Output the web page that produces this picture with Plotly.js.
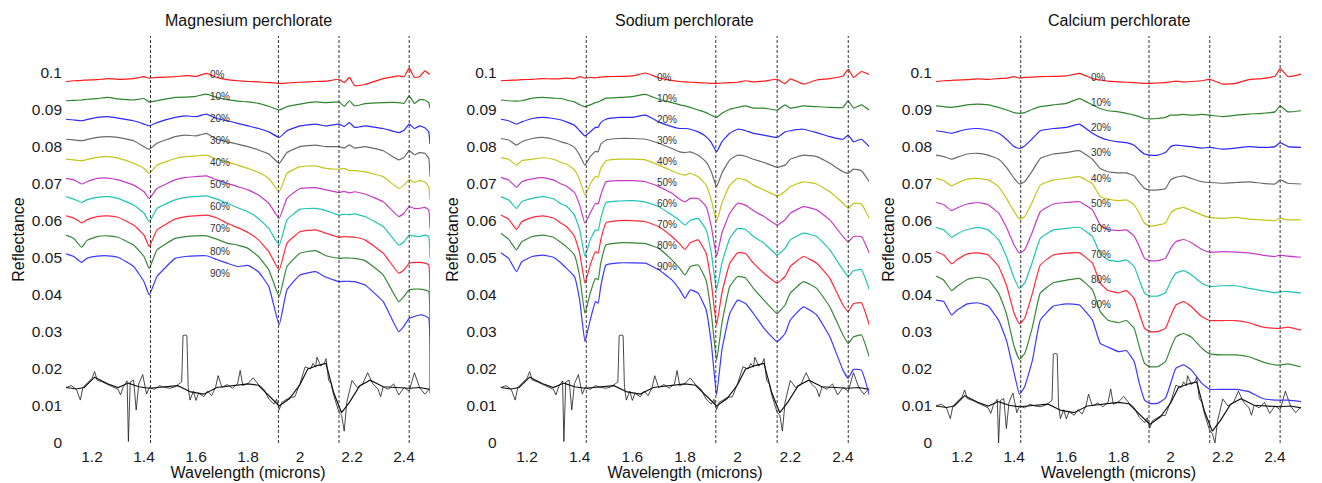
<!DOCTYPE html>
<html>
<head>
<meta charset="utf-8">
<script src="https://cdn.plot.ly/plotly-3.0.1.min.js"></script>
<style>html,body{margin:0;padding:0;background:#fff;}#chart{width:1322px;height:483px;}</style>
</head>
<body>
<div id="chart"></div>
<script>
// ---------------- DATA ----------------
const panelTitles = ["Magnesium perchlorate", "Sodium perchlorate", "Calcium perchlorate"];
const mixLabels = ["0%", "10%", "20%", "30%", "40%", "50%", "60%", "70%", "80%", "90%"];
const xTickVals = [1.2, 1.4, 1.6, 1.8, 2.0, 2.2, 2.4];
const xTickText = ["1.2", "1.4", "1.6", "1.8", "2", "2.2", "2.4"];
const yTickVals = [0, 0.01, 0.02, 0.03, 0.04, 0.05, 0.06, 0.07, 0.08, 0.09, 0.1];
const yTickText = ["0", "0.01", "0.02", "0.03", "0.04", "0.05", "0.06", "0.07", "0.08", "0.09", "0.1"];
const bandCenters = [1.425, 1.917, 2.15, 2.42];

// Magnesium perchlorate
const mgWl = [1.10,1.13,1.16,1.18,1.22,1.26,1.30,1.36,1.40,1.42,1.45,1.52,1.56,1.60,1.64,1.68,1.72,1.76,1.80,1.84,1.88,1.92,1.95,2.00,2.06,2.10,2.15,2.17,2.19,2.21,2.25,2.32,2.38,2.40,2.42,2.44,2.46,2.48,2.495,2.50];
const mg0  = [0.0977,0.0979,0.0980,0.0981,0.0982,0.0985,0.0983,0.0985,0.0990,0.0986,0.0988,0.0990,0.0993,0.0991,0.0999,0.0988,0.0982,0.0979,0.0977,0.0976,0.0974,0.0972,0.0973,0.0975,0.0977,0.0978,0.0983,0.0974,0.0988,0.0966,0.0969,0.0985,0.0992,0.0990,0.1013,0.0988,0.0990,0.1006,0.0998,0.0997];
const mg10 = [0.0925,0.0926,0.0927,0.0929,0.0931,0.0934,0.0930,0.0927,0.0931,0.0922,0.0925,0.0934,0.0935,0.0937,0.0943,0.0934,0.0928,0.0924,0.0922,0.0918,0.0910,0.0900,0.0909,0.0916,0.0922,0.0920,0.0922,0.0910,0.0925,0.0911,0.0917,0.0920,0.0920,0.0918,0.0938,0.0918,0.0928,0.0927,0.0920,0.0905];
const mg20 = [0.0875,0.0873,0.0871,0.0874,0.0880,0.0882,0.0878,0.0871,0.0862,0.0857,0.0866,0.0880,0.0884,0.0882,0.0889,0.0877,0.0871,0.0864,0.0857,0.0850,0.0841,0.0826,0.0844,0.0857,0.0862,0.0857,0.0862,0.0855,0.0866,0.0853,0.0857,0.0850,0.0839,0.0845,0.0862,0.0850,0.0857,0.0852,0.0841,0.0808];
const mg30 = [0.0821,0.0819,0.0817,0.0820,0.0826,0.0828,0.0826,0.0817,0.0801,0.0794,0.0810,0.0828,0.0832,0.0830,0.0837,0.0821,0.0814,0.0808,0.0801,0.0792,0.0781,0.0756,0.0785,0.0801,0.0805,0.0801,0.0801,0.0797,0.0806,0.0797,0.0801,0.0790,0.0765,0.0772,0.0790,0.0779,0.0785,0.0783,0.0770,0.0720];
const mg40 = [0.0767,0.0765,0.0763,0.0766,0.0772,0.0774,0.0770,0.0756,0.0742,0.0729,0.0751,0.0769,0.0774,0.0776,0.0778,0.0767,0.0760,0.0751,0.0742,0.0731,0.0715,0.0679,0.0729,0.0747,0.0749,0.0742,0.0740,0.0742,0.0736,0.0736,0.0733,0.0720,0.0688,0.0697,0.0711,0.0704,0.0709,0.0706,0.0693,0.0657];
const mg50 = [0.0715,0.0711,0.0700,0.0706,0.0715,0.0716,0.0711,0.0697,0.0679,0.0661,0.0688,0.0711,0.0718,0.0720,0.0722,0.0711,0.0702,0.0693,0.0684,0.0670,0.0648,0.0607,0.0661,0.0688,0.0690,0.0684,0.0677,0.0680,0.0676,0.0679,0.0673,0.0652,0.0612,0.0621,0.0639,0.0634,0.0634,0.0637,0.0630,0.0580];
const mg60 = [0.0666,0.0659,0.0650,0.0657,0.0664,0.0666,0.0661,0.0643,0.0621,0.0598,0.0634,0.0657,0.0664,0.0666,0.0668,0.0659,0.0648,0.0636,0.0625,0.0607,0.0580,0.0535,0.0603,0.0632,0.0634,0.0628,0.0616,0.0618,0.0617,0.0619,0.0612,0.0585,0.0535,0.0544,0.0562,0.0559,0.0558,0.0562,0.0558,0.0500];
const mg70 = [0.0614,0.0608,0.0595,0.0603,0.0612,0.0614,0.0610,0.0589,0.0562,0.0531,0.0576,0.0605,0.0612,0.0614,0.0616,0.0608,0.0594,0.0582,0.0569,0.0549,0.0517,0.0468,0.0540,0.0571,0.0576,0.0567,0.0556,0.0558,0.0557,0.0556,0.0549,0.0513,0.0459,0.0468,0.0486,0.0488,0.0488,0.0486,0.0482,0.0400];
const mg80 = [0.0562,0.0553,0.0529,0.0547,0.0558,0.0560,0.0556,0.0535,0.0504,0.0472,0.0522,0.0553,0.0558,0.0560,0.0560,0.0551,0.0540,0.0535,0.0526,0.0504,0.0468,0.0396,0.0477,0.0513,0.0520,0.0506,0.0499,0.0500,0.0500,0.0499,0.0493,0.0454,0.0382,0.0396,0.0414,0.0416,0.0416,0.0414,0.0410,0.0300];
const mg90 = [0.0511,0.0504,0.0488,0.0499,0.0505,0.0506,0.0502,0.0477,0.0436,0.0400,0.0450,0.0499,0.0504,0.0506,0.0506,0.0496,0.0486,0.0477,0.0480,0.0463,0.0423,0.0319,0.0414,0.0454,0.0463,0.0448,0.0436,0.0437,0.0437,0.0436,0.0427,0.0382,0.0301,0.0316,0.0337,0.0342,0.0346,0.0344,0.0337,0.0134];

// Sodium perchlorate
const naWl = [1.10,1.13,1.16,1.18,1.22,1.26,1.30,1.33,1.35,1.38,1.40,1.42,1.44,1.46,1.47,1.48,1.50,1.55,1.60,1.65,1.70,1.75,1.78,1.80,1.82,1.85,1.88,1.90,1.92,1.94,1.97,2.00,2.03,2.06,2.10,2.15,2.18,2.20,2.25,2.30,2.35,2.40,2.42,2.44,2.47,2.50];
const na0  = [0.0979,0.0980,0.0981,0.0982,0.0983,0.0985,0.0984,0.0985,0.0986,0.0985,0.0990,0.0986,0.0988,0.0987,0.0988,0.0989,0.0990,0.0991,0.0992,0.1000,0.0987,0.0980,0.0977,0.0976,0.0975,0.0974,0.0973,0.0972,0.0972,0.0973,0.0974,0.0975,0.0979,0.0976,0.0978,0.0983,0.0971,0.0984,0.0970,0.0981,0.0985,0.0992,0.1010,0.0988,0.1004,0.0996];
const na10 = [0.0927,0.0925,0.0924,0.0925,0.0932,0.0934,0.0932,0.0931,0.0927,0.0922,0.0914,0.0909,0.0914,0.0920,0.0922,0.0925,0.0932,0.0934,0.0936,0.0942,0.0929,0.0920,0.0914,0.0911,0.0907,0.0900,0.0893,0.0886,0.0880,0.0891,0.0902,0.0907,0.0911,0.0905,0.0905,0.0900,0.0914,0.0905,0.0911,0.0909,0.0907,0.0907,0.0925,0.0905,0.0914,0.0900];
const na20 = [0.0875,0.0871,0.0862,0.0868,0.0877,0.0880,0.0877,0.0873,0.0868,0.0859,0.0844,0.0830,0.0841,0.0853,0.0853,0.0866,0.0875,0.0880,0.0880,0.0886,0.0868,0.0855,0.0850,0.0850,0.0848,0.0841,0.0828,0.0812,0.0787,0.0814,0.0837,0.0848,0.0844,0.0837,0.0832,0.0826,0.0841,0.0844,0.0848,0.0839,0.0828,0.0821,0.0832,0.0814,0.0821,0.0801];
const na30 = [0.0823,0.0819,0.0805,0.0814,0.0823,0.0826,0.0821,0.0814,0.0810,0.0799,0.0778,0.0751,0.0774,0.0788,0.0787,0.0808,0.0819,0.0823,0.0823,0.0821,0.0810,0.0796,0.0787,0.0785,0.0787,0.0778,0.0760,0.0733,0.0693,0.0729,0.0765,0.0778,0.0775,0.0767,0.0758,0.0745,0.0751,0.0767,0.0778,0.0774,0.0756,0.0733,0.0729,0.0740,0.0736,0.0706];
const na40 = [0.0772,0.0767,0.0751,0.0763,0.0767,0.0771,0.0767,0.0758,0.0754,0.0738,0.0711,0.0670,0.0700,0.0720,0.0718,0.0742,0.0763,0.0767,0.0767,0.0765,0.0751,0.0736,0.0727,0.0724,0.0729,0.0720,0.0697,0.0657,0.0598,0.0648,0.0697,0.0715,0.0711,0.0697,0.0684,0.0668,0.0680,0.0693,0.0706,0.0700,0.0679,0.0648,0.0634,0.0648,0.0646,0.0607];
const na50 = [0.0718,0.0711,0.0691,0.0706,0.0714,0.0717,0.0711,0.0700,0.0694,0.0677,0.0643,0.0594,0.0621,0.0648,0.0646,0.0670,0.0706,0.0709,0.0709,0.0706,0.0693,0.0675,0.0659,0.0652,0.0661,0.0661,0.0639,0.0585,0.0504,0.0567,0.0621,0.0648,0.0643,0.0628,0.0612,0.0589,0.0603,0.0621,0.0639,0.0630,0.0603,0.0558,0.0544,0.0558,0.0558,0.0513];
const na60 = [0.0666,0.0657,0.0634,0.0652,0.0661,0.0666,0.0660,0.0646,0.0640,0.0616,0.0576,0.0504,0.0549,0.0576,0.0574,0.0607,0.0650,0.0654,0.0655,0.0651,0.0639,0.0616,0.0601,0.0589,0.0602,0.0607,0.0576,0.0513,0.0414,0.0486,0.0553,0.0580,0.0577,0.0558,0.0540,0.0508,0.0526,0.0549,0.0567,0.0558,0.0522,0.0468,0.0450,0.0466,0.0468,0.0414];
const na70 = [0.0616,0.0605,0.0577,0.0598,0.0610,0.0614,0.0608,0.0594,0.0585,0.0559,0.0513,0.0432,0.0481,0.0517,0.0513,0.0549,0.0595,0.0601,0.0601,0.0598,0.0585,0.0558,0.0538,0.0523,0.0541,0.0549,0.0513,0.0432,0.0319,0.0405,0.0486,0.0514,0.0512,0.0486,0.0459,0.0432,0.0450,0.0477,0.0504,0.0486,0.0445,0.0373,0.0355,0.0377,0.0379,0.0319];
const na80 = [0.0567,0.0551,0.0522,0.0544,0.0558,0.0562,0.0556,0.0541,0.0530,0.0508,0.0450,0.0350,0.0405,0.0445,0.0441,0.0486,0.0535,0.0541,0.0541,0.0539,0.0526,0.0495,0.0472,0.0454,0.0477,0.0481,0.0440,0.0350,0.0224,0.0323,0.0423,0.0450,0.0446,0.0418,0.0386,0.0350,0.0373,0.0405,0.0436,0.0418,0.0368,0.0292,0.0269,0.0287,0.0292,0.0233];
const na90 = [0.0514,0.0499,0.0463,0.0490,0.0504,0.0508,0.0502,0.0486,0.0472,0.0450,0.0386,0.0274,0.0332,0.0382,0.0378,0.0423,0.0481,0.0487,0.0487,0.0486,0.0468,0.0441,0.0414,0.0391,0.0414,0.0405,0.0360,0.0269,0.0130,0.0251,0.0350,0.0386,0.0377,0.0350,0.0310,0.0274,0.0296,0.0332,0.0368,0.0346,0.0287,0.0197,0.0175,0.0199,0.0197,0.0130];

// Calcium perchlorate
const caWl = [1.10,1.13,1.16,1.18,1.22,1.26,1.30,1.34,1.37,1.40,1.42,1.44,1.47,1.50,1.55,1.60,1.65,1.70,1.73,1.76,1.80,1.83,1.86,1.88,1.90,1.92,1.95,1.98,2.00,2.02,2.05,2.08,2.12,2.15,2.20,2.25,2.30,2.35,2.40,2.42,2.45,2.50];
const ca0  = [0.0977,0.0979,0.0980,0.0981,0.0982,0.0984,0.0983,0.0985,0.0986,0.0990,0.0986,0.0988,0.0989,0.0990,0.0991,0.0992,0.0999,0.0985,0.0981,0.0978,0.0976,0.0975,0.0974,0.0973,0.0972,0.0972,0.0973,0.0974,0.0976,0.0978,0.0976,0.0977,0.0979,0.0983,0.0970,0.0972,0.0982,0.0985,0.0991,0.1012,0.0990,0.0997];
const ca10 = [0.0911,0.0909,0.0907,0.0909,0.0914,0.0916,0.0914,0.0907,0.0900,0.0893,0.0891,0.0893,0.0902,0.0909,0.0914,0.0918,0.0931,0.0914,0.0904,0.0898,0.0895,0.0891,0.0886,0.0882,0.0877,0.0876,0.0877,0.0880,0.0886,0.0886,0.0888,0.0886,0.0888,0.0886,0.0882,0.0886,0.0889,0.0891,0.0895,0.0911,0.0895,0.0898];
const ca20 = [0.0844,0.0841,0.0837,0.0841,0.0848,0.0850,0.0846,0.0837,0.0821,0.0801,0.0796,0.0803,0.0823,0.0844,0.0850,0.0853,0.0862,0.0837,0.0826,0.0819,0.0814,0.0812,0.0805,0.0792,0.0781,0.0778,0.0778,0.0785,0.0801,0.0805,0.0803,0.0801,0.0797,0.0799,0.0794,0.0797,0.0801,0.0799,0.0801,0.0812,0.0801,0.0799];
const ca30 = [0.0778,0.0774,0.0767,0.0772,0.0781,0.0783,0.0778,0.0767,0.0745,0.0715,0.0700,0.0706,0.0736,0.0769,0.0781,0.0785,0.0790,0.0767,0.0742,0.0733,0.0730,0.0730,0.0722,0.0704,0.0688,0.0684,0.0684,0.0688,0.0711,0.0718,0.0722,0.0715,0.0706,0.0704,0.0702,0.0704,0.0706,0.0702,0.0700,0.0711,0.0702,0.0700];
const ca40 = [0.0715,0.0709,0.0695,0.0702,0.0713,0.0715,0.0711,0.0693,0.0661,0.0625,0.0605,0.0612,0.0652,0.0697,0.0711,0.0715,0.0720,0.0700,0.0666,0.0659,0.0655,0.0657,0.0643,0.0621,0.0594,0.0586,0.0589,0.0594,0.0621,0.0632,0.0637,0.0628,0.0616,0.0610,0.0607,0.0610,0.0605,0.0603,0.0601,0.0607,0.0603,0.0603];
const ca50 = [0.0650,0.0644,0.0628,0.0635,0.0646,0.0650,0.0644,0.0621,0.0583,0.0535,0.0513,0.0522,0.0571,0.0625,0.0646,0.0650,0.0652,0.0630,0.0589,0.0577,0.0574,0.0576,0.0559,0.0531,0.0499,0.0493,0.0493,0.0499,0.0526,0.0544,0.0550,0.0541,0.0523,0.0516,0.0517,0.0516,0.0514,0.0508,0.0504,0.0508,0.0505,0.0502];
const ca60 = [0.0583,0.0576,0.0556,0.0565,0.0577,0.0583,0.0576,0.0549,0.0504,0.0445,0.0418,0.0432,0.0490,0.0553,0.0576,0.0580,0.0583,0.0558,0.0511,0.0495,0.0490,0.0495,0.0477,0.0440,0.0405,0.0397,0.0397,0.0406,0.0436,0.0459,0.0466,0.0454,0.0432,0.0423,0.0425,0.0425,0.0418,0.0412,0.0406,0.0409,0.0409,0.0405];
const ca70 = [0.0517,0.0508,0.0484,0.0495,0.0511,0.0514,0.0508,0.0477,0.0427,0.0350,0.0322,0.0337,0.0405,0.0481,0.0508,0.0513,0.0514,0.0486,0.0432,0.0412,0.0406,0.0412,0.0391,0.0350,0.0310,0.0301,0.0301,0.0310,0.0343,0.0373,0.0382,0.0368,0.0341,0.0331,0.0331,0.0331,0.0325,0.0314,0.0310,0.0310,0.0313,0.0305];
const ca80 = [0.0451,0.0440,0.0412,0.0423,0.0442,0.0448,0.0441,0.0405,0.0350,0.0260,0.0226,0.0242,0.0314,0.0405,0.0433,0.0440,0.0445,0.0414,0.0355,0.0332,0.0325,0.0331,0.0310,0.0260,0.0215,0.0206,0.0206,0.0220,0.0256,0.0287,0.0296,0.0286,0.0256,0.0241,0.0238,0.0238,0.0233,0.0220,0.0211,0.0211,0.0214,0.0206];
const ca90 = [0.0386,0.0382,0.0346,0.0359,0.0376,0.0379,0.0370,0.0332,0.0278,0.0188,0.0132,0.0152,0.0224,0.0332,0.0370,0.0376,0.0373,0.0332,0.0269,0.0259,0.0247,0.0250,0.0220,0.0161,0.0116,0.0107,0.0107,0.0121,0.0161,0.0202,0.0211,0.0197,0.0161,0.0145,0.0145,0.0145,0.0139,0.0121,0.0116,0.0116,0.0116,0.0112];

// Black reference spectrum (noisy trace and smoothed trace)
const refWl = [1.10,1.12,1.14,1.155,1.165,1.18,1.20,1.21,1.22,1.24,1.26,1.28,1.30,1.31,1.32,1.335,1.34,1.347,1.36,1.37,1.38,1.395,1.41,1.42,1.44,1.46,1.48,1.50,1.52,1.535,1.545,1.55,1.56,1.565,1.57,1.577,1.59,1.60,1.61,1.63,1.645,1.66,1.675,1.685,1.70,1.72,1.74,1.76,1.77,1.78,1.80,1.82,1.84,1.86,1.88,1.90,1.91,1.92,1.93,1.94,1.96,1.98,2.00,2.02,2.04,2.05,2.06,2.065,2.08,2.095,2.10,2.11,2.12,2.13,2.15,2.16,2.17,2.18,2.20,2.22,2.24,2.26,2.28,2.30,2.31,2.32,2.34,2.36,2.38,2.40,2.42,2.44,2.46,2.48,2.50];
const refMgNa = [0.0150,0.0155,0.0145,0.0116,0.0150,0.0160,0.0175,0.0193,0.0170,0.0165,0.0158,0.0150,0.0145,0.0130,0.0152,0.0168,0.0004,0.0165,0.0170,0.0089,0.0160,0.0185,0.0132,0.0150,0.0145,0.0155,0.0150,0.0148,0.0152,0.0160,0.0165,0.0290,0.0292,0.0290,0.0150,0.0116,0.0140,0.0115,0.0135,0.0125,0.0140,0.0128,0.0150,0.0182,0.0150,0.0158,0.0148,0.0160,0.0196,0.0155,0.0161,0.0176,0.0158,0.0146,0.0119,0.0105,0.0118,0.0090,0.0110,0.0114,0.0123,0.0125,0.0161,0.0206,0.0200,0.0215,0.0205,0.0232,0.0208,0.0218,0.0228,0.0170,0.0160,0.0128,0.0083,0.0075,0.0032,0.0110,0.0169,0.0150,0.0158,0.0190,0.0160,0.0146,0.0125,0.0152,0.0145,0.0160,0.0130,0.0150,0.0140,0.0190,0.0150,0.0132,0.0148];
const refCa = [0.0100,0.0105,0.0095,0.0066,0.0100,0.0110,0.0125,0.0143,0.0120,0.0115,0.0108,0.0100,0.0095,0.0080,0.0102,0.0118,0.0000,0.0115,0.0120,0.0039,0.0110,0.0135,0.0082,0.0100,0.0095,0.0105,0.0100,0.0098,0.0102,0.0110,0.0115,0.0240,0.0242,0.0240,0.0100,0.0066,0.0090,0.0065,0.0085,0.0075,0.0090,0.0078,0.0100,0.0132,0.0100,0.0108,0.0098,0.0110,0.0146,0.0105,0.0111,0.0126,0.0108,0.0096,0.0069,0.0055,0.0068,0.0040,0.0060,0.0064,0.0073,0.0075,0.0111,0.0156,0.0150,0.0165,0.0155,0.0182,0.0158,0.0168,0.0178,0.0120,0.0110,0.0078,0.0033,0.0025,0.0000,0.0060,0.0119,0.0100,0.0108,0.0140,0.0110,0.0096,0.0075,0.0102,0.0095,0.0110,0.0080,0.0100,0.0090,0.0140,0.0100,0.0082,0.0098];
const refSmWl = [1.10,1.14,1.17,1.21,1.26,1.30,1.34,1.38,1.42,1.48,1.53,1.58,1.63,1.68,1.74,1.80,1.84,1.88,1.92,1.96,2.00,2.03,2.07,2.10,2.13,2.16,2.19,2.23,2.27,2.32,2.37,2.42,2.46,2.50];
const refSmMgNa = [0.0150,0.0146,0.0150,0.0178,0.0160,0.0150,0.0162,0.0152,0.0148,0.0152,0.0155,0.0138,0.0132,0.0150,0.0155,0.0160,0.0156,0.0128,0.0100,0.0120,0.0158,0.0200,0.0210,0.0215,0.0135,0.0082,0.0110,0.0155,0.0170,0.0152,0.0150,0.0148,0.0150,0.0145];
const refSmCa = [0.0100,0.0096,0.0100,0.0128,0.0110,0.0100,0.0112,0.0102,0.0098,0.0102,0.0105,0.0088,0.0082,0.0100,0.0105,0.0110,0.0106,0.0078,0.0050,0.0070,0.0108,0.0150,0.0160,0.0165,0.0085,0.0032,0.0060,0.0105,0.0120,0.0102,0.0100,0.0098,0.0100,0.0095];

// ---------------- STYLE / LAYOUT ----------------
const colors = ["#ff1a1a", "#2f852f", "#2a2aff", "#6a6a6a", "#c4c41c", "#c43cc4", "#20c4b4", "#ff2a3a", "#3a873a", "#3a3aff"];
const panels = [
  {wl: mgWl, series: [mg0,mg10,mg20,mg30,mg40,mg50,mg60,mg70,mg80,mg90], ref: refMgNa, refSm: refSmMgNa,
   dom: [66/1322, 430/1322], labX: 1.646, labTop: 0.0997, labStep: 0.00598},
  {wl: naWl, series: [na0,na10,na20,na30,na40,na50,na60,na70,na80,na90], ref: refMgNa, refSm: refSmMgNa,
   dom: [500.7/1322, 869.3/1322], labX: 1.686, labTop: 0.0989, labStep: 0.00568},
  {wl: caWl, series: [ca0,ca10,ca20,ca30,ca40,ca50,ca60,ca70,ca80,ca90], ref: refCa, refSm: refSmCa,
   dom: [936/1322, 1301/1322], labX: 1.687, labTop: 0.0989, labStep: 0.00684}
];

const fontFam = "Liberation Sans, Arial, Helvetica, sans-serif";
const traces = [];
const shapes = [];
const annotations = [];
const layout = {
  width: 1322, height: 483, autosize: false,
  margin: {l: 0, r: 0, t: 0, b: 0},
  paper_bgcolor: "#ffffff", plot_bgcolor: "#ffffff",
  showlegend: false,
  font: {family: fontFam, color: "#1a1a1a", size: 15}
};
const yDom = [(483 - 443) / 483, (483 - 36) / 483];

panels.forEach((p, i) => {
  const n = i + 1;
  const xa = n === 1 ? "x" : "x" + n;
  const ya = n === 1 ? "y" : "y" + n;
  traces.push({x: refWl, y: p.ref, xaxis: xa, yaxis: ya, type: "scatter", mode: "lines",
    line: {color: "#1a1a1a", width: 0.8}, hoverinfo: "skip"});
  traces.push({x: refSmWl, y: p.refSm, xaxis: xa, yaxis: ya, type: "scatter", mode: "lines",
    line: {color: "#111111", width: 1.2}, hoverinfo: "skip"});
  p.series.forEach((s, k) => {
    traces.push({x: p.wl, y: s, xaxis: xa, yaxis: ya, type: "scatter", mode: "lines",
      name: mixLabels[k], line: {color: colors[k], width: 1.2, shape: "spline", smoothing: 0.35}});
    annotations.push({xref: xa, yref: ya, x: p.labX, y: p.labTop - k * p.labStep, text: mixLabels[k],
      showarrow: false, xanchor: "left", yanchor: "middle",
      font: {size: 10, color: "#333333", family: fontFam}});
  });
  bandCenters.forEach(b => {
    shapes.push({type: "line", xref: xa, yref: ya, x0: b, x1: b, y0: 0, y1: 0.11,
      line: {color: "#333333", width: 1, dash: "3px,2px"}, layer: "above"});
  });
  annotations.push({xref: "paper", yref: "paper", x: (p.dom[0] + p.dom[1]) / 2, y: (483 - 20) / 483,
    text: panelTitles[i], showarrow: false, xanchor: "center", yanchor: "middle",
    font: {size: 16, color: "#111111", family: fontFam}});

  layout["xaxis" + (n === 1 ? "" : n)] = {
    domain: p.dom, anchor: ya, range: [1.1, 2.5], tickvals: xTickVals, ticktext: xTickText,
    showline: false, showgrid: false, zeroline: false, ticks: "", ticklabelstandoff: 2,
    tickfont: {size: 15.5, color: "#1a1a1a"},
    title: {text: "Wavelength (microns)", font: {size: 16, color: "#111111"}, standoff: 0}
  };
  layout["yaxis" + (n === 1 ? "" : n)] = {
    domain: yDom, anchor: xa, range: [0, 0.11], tickvals: yTickVals, ticktext: yTickText,
    showline: false, showgrid: false, zeroline: false, ticks: "", ticklabelstandoff: 3,
    tickfont: {size: 15.5, color: "#1a1a1a"},
    title: {text: "Reflectance", font: {size: 16, color: "#111111"}, standoff: 3}
  };
});
layout.shapes = shapes;
layout.annotations = annotations;

Plotly.newPlot("chart", traces, layout, {staticPlot: true, displayModeBar: false});
</script>
</body>
</html>
